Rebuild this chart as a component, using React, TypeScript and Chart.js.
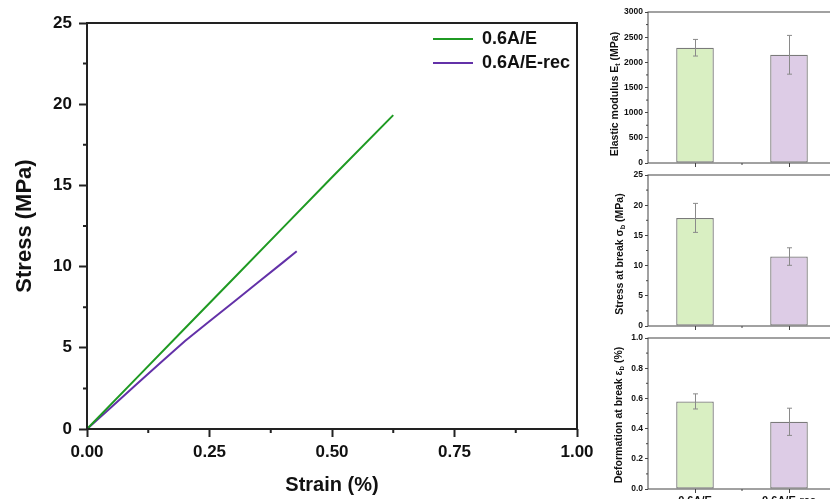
import React, { useEffect, useRef } from "react";
import { Chart, registerables } from "chart.js";
Chart.register(...registerables);

// ---------- Main stress–strain data ----------
const seriesNames = ["0.6A/E", "0.6A/E-rec"];
const strainA = [0, 0.1, 0.2, 0.3, 0.4, 0.5, 0.625];
const stressA = [0, 3.1, 6.2, 9.3, 12.4, 15.5, 19.33];
const strainB = [0, 0.05, 0.1, 0.15, 0.2, 0.25, 0.3, 0.35, 0.4, 0.428];
const stressB = [0, 1.35, 2.72, 4.08, 5.42, 6.63, 7.84, 9.05, 10.26, 10.94];
const xMinorMain = [0.125, 0.375, 0.625, 0.875];
const yMinorMain = [2.5, 7.5, 12.5, 17.5, 22.5];

// ---------- Bar panel data ----------
const samples = ["0.6A/E", "0.6A/E-rec"];
const modulusMean = [2290, 2150];
const modulusErr = [165, 385];
const breakStressMean = [17.9, 11.5];
const breakStressErr = [2.4, 1.45];
const deformMean = [0.58, 0.445];
const deformErr = [0.05, 0.09];
const modulusTitle = ["Elastic modulus E", "t", " (MPa)"];
const stressTitle = ["Stress at break \u03c3", "b", " (MPa)"];
const deformTitle = ["Deformation at break \u03b5", "b", " (%)"];
const modulusMinor = [250, 750, 1250, 1750, 2250, 2750];
const stressMinor = [2.5, 7.5, 12.5, 17.5, 22.5];
const deformMinor = [0.1, 0.3, 0.5, 0.7, 0.9];

const lineColors = ["#1f9a23", "#6331a8"];
const barFills = ["#d9efc2", "#ddcce6"];
const FONT = "'Liberation Sans', Arial, sans-serif";

function framePlugin(color: string, width: number) {
  return {
    id: "frame",
    afterDatasetsDraw(chart: any) {
      const { ctx, chartArea: a } = chart;
      ctx.save();
      ctx.strokeStyle = color;
      ctx.lineWidth = width;
      ctx.strokeRect(a.left, a.top, a.right - a.left, a.bottom - a.top);
      ctx.restore();
    },
  };
}

function minorTicksPlugin(xVals: number[], yVals: number[], len: number, color: string, w: number) {
  return {
    id: "minorTicks",
    afterDraw(chart: any) {
      const { ctx, chartArea: a, scales } = chart;
      ctx.save();
      ctx.strokeStyle = color;
      ctx.lineWidth = w;
      ctx.beginPath();
      xVals.forEach((v) => {
        const px = scales.x.getPixelForValue(v);
        ctx.moveTo(px, a.bottom);
        ctx.lineTo(px, a.bottom + len);
      });
      yVals.forEach((v) => {
        const py = scales.y.getPixelForValue(v);
        ctx.moveTo(a.left, py);
        ctx.lineTo(a.left - len, py);
      });
      ctx.stroke();
      ctx.restore();
    },
  };
}

function errorBarPlugin(means: number[], errs: number[]) {
  return {
    id: "errorBars",
    afterDatasetsDraw(chart: any) {
      const { ctx } = chart;
      const meta = chart.getDatasetMeta(0);
      const ys = chart.scales.y;
      ctx.save();
      ctx.strokeStyle = "#8a8a8a";
      ctx.lineWidth = 1;
      ctx.beginPath();
      meta.data.forEach((bar: any, i: number) => {
        const x = Math.round(bar.x) + 0.5;
        const hi = ys.getPixelForValue(means[i] + errs[i]);
        const lo = ys.getPixelForValue(means[i] - errs[i]);
        ctx.moveTo(x, hi);
        ctx.lineTo(x, lo);
        ctx.moveTo(x - 2.5, hi);
        ctx.lineTo(x + 2.5, hi);
        ctx.moveTo(x - 2.5, lo);
        ctx.lineTo(x + 2.5, lo);
      });
      ctx.stroke();
      ctx.restore();
    },
  };
}

function subTitlePlugin(parts: string[], cx: number, cy: number, size: number) {
  return {
    id: "subTitle",
    afterDraw(chart: any) {
      const { ctx } = chart;
      const mainFont = `bold ${size}px ${FONT}`;
      const subFont = `bold ${size * 0.7}px ${FONT}`;
      ctx.save();
      ctx.translate(cx, cy);
      ctx.rotate(-Math.PI / 2);
      ctx.fillStyle = "#111";
      ctx.textBaseline = "middle";
      ctx.textAlign = "left";
      const fonts = [mainFont, subFont, mainFont];
      const widths = parts.map((p, i) => {
        ctx.font = fonts[i];
        return ctx.measureText(p).width;
      });
      let x = -(widths[0] + widths[1] + widths[2]) / 2;
      parts.forEach((p, i) => {
        ctx.font = fonts[i];
        ctx.fillText(p, x, i === 1 ? size * 0.3 : 0);
        x += widths[i];
      });
      ctx.restore();
    },
  };
}

const legendPlacer = {
  id: "legendPlacer",
  afterLayout(chart: any) {
    const l = chart.legend;
    if (!l) return;
    l.left = 427;
    l.top = 24;
    l.right = chart.width;
    l.bottom = chart.chartArea.bottom;
    l.width = l.right - l.left;
    l.height = l.bottom - l.top;
  },
};

function MainChart() {
  const ref = useRef<HTMLCanvasElement>(null);
  useEffect(() => {
    const chart = new Chart(ref.current as HTMLCanvasElement, {
      type: "scatter",
      data: {
        datasets: [
          {
            label: seriesNames[0],
            data: strainA.map((x, i) => ({ x, y: stressA[i] })),
            showLine: true,
            borderColor: lineColors[0],
            backgroundColor: lineColors[0],
            borderWidth: 2,
            pointRadius: 0,
          },
          {
            label: seriesNames[1],
            data: strainB.map((x, i) => ({ x, y: stressB[i] })),
            showLine: true,
            borderColor: lineColors[1],
            backgroundColor: lineColors[1],
            borderWidth: 2,
            pointRadius: 0,
          },
        ],
      },
      options: {
        animation: false,
        responsive: false,
        devicePixelRatio: 1,
        layout: { padding: { left: 0, top: 23, right: 23, bottom: 0 } },
        plugins: {
          tooltip: { enabled: false },
          legend: {
            display: true,
            position: "chartArea" as any,
            align: "start",
            labels: {
              usePointStyle: true,
              pointStyle: "line",
              pointStyleWidth: 40,
              padding: 6,
              color: "#111",
              font: { family: FONT, size: 18, weight: "bold" },
            },
          },
        },
        scales: {
          x: {
            type: "linear",
            min: 0,
            max: 1,
            ticks: {
              stepSize: 0.25,
              callback: (v: any) => Number(v).toFixed(2),
              color: "#111",
              padding: 5,
              font: { family: FONT, size: 17, weight: "bold" },
              maxRotation: 0,
            },
            grid: { drawOnChartArea: false, tickLength: 8, tickWidth: 2, tickColor: "#222" },
            border: { display: false },
            title: {
              display: true,
              text: "Strain (%)",
              color: "#111",
              font: { family: FONT, size: 20, weight: "bold" },
              padding: { top: 0, bottom: 2 },
            },
            afterFit(s: any) {
              s.height = 70;
              s.paddingLeft = 0;
              s.paddingRight = 0;
            },
          },
          y: {
            min: 0,
            max: 25,
            ticks: {
              stepSize: 5,
              color: "#111",
              padding: 7,
              font: { family: FONT, size: 17, weight: "bold" },
            },
            grid: { drawOnChartArea: false, tickLength: 8, tickWidth: 2, tickColor: "#222" },
            border: { display: false },
            title: {
              display: true,
              text: "Stress (MPa)",
              color: "#111",
              font: { family: FONT, size: 22, weight: "bold" },
              padding: { top: 12, bottom: 0 },
            },
            afterFit(s: any) {
              s.width = 87;
              s.paddingTop = 0;
              s.paddingBottom = 0;
            },
          },
        },
      } as any,
      plugins: [framePlugin("#222", 2), minorTicksPlugin(xMinorMain, yMinorMain, 4, "#222", 2), legendPlacer],
    });
    return () => chart.destroy();
  }, []);
  return (
    <canvas
      ref={ref}
      width={600}
      height={499}
      style={{ position: "absolute", left: 0, top: 0, width: 600, height: 499 }}
    />
  );
}

type PanelProps = {
  top: number;
  height: number;
  padTop: number;
  xHeight: number;
  means: number[];
  errs: number[];
  max: number;
  step: number;
  decimals: number;
  minor: number[];
  title: string[];
  titleX: number;
  titleY: number;
  showLabels: boolean;
};

function BarPanel(p: PanelProps) {
  const ref = useRef<HTMLCanvasElement>(null);
  useEffect(() => {
    const chart = new Chart(ref.current as HTMLCanvasElement, {
      type: "bar",
      data: {
        labels: samples,
        datasets: [
          {
            data: p.means,
            backgroundColor: barFills,
            borderColor: "#7a7a7a",
            borderWidth: 1.3,
            borderSkipped: false,
            barPercentage: 0.4,
            categoryPercentage: 1,
          },
        ],
      },
      options: {
        animation: false,
        responsive: false,
        devicePixelRatio: 1,
        layout: { padding: { left: 0, top: p.padTop, right: 14, bottom: 0 } },
        plugins: { legend: { display: false }, tooltip: { enabled: false } },
        scales: {
          x: {
            grid: { offset: false, drawOnChartArea: false, tickLength: 4, tickWidth: 1, tickColor: "#444" },
            border: { display: false },
            ticks: {
              display: p.showLabels,
              color: "#111",
              padding: 1,
              maxRotation: 0,
              font: { family: FONT, size: 11, weight: "bold" },
            },
            afterFit(s: any) {
              s.height = p.xHeight;
              s.paddingLeft = 0;
              s.paddingRight = 0;
            },
          },
          y: {
            min: 0,
            max: p.max,
            ticks: {
              stepSize: p.step,
              callback: (v: any) => Number(v).toFixed(p.decimals),
              color: "#111",
              padding: 2,
              font: { family: FONT, size: 8.5, weight: "bold" },
            },
            grid: { drawOnChartArea: false, tickLength: 3, tickWidth: 1, tickColor: "#444" },
            border: { display: false },
            afterFit(s: any) {
              s.width = 58;
              s.paddingTop = 0;
              s.paddingBottom = 0;
            },
          },
        },
      } as any,
      plugins: [
        errorBarPlugin(p.means, p.errs),
        framePlugin("#444", 1),
        minorTicksPlugin([0.5], p.minor, 2, "#444", 1),
        subTitlePlugin(p.title, p.titleX, p.titleY, 10.5),
      ],
    });
    return () => chart.destroy();
  }, []);
  return (
    <canvas
      ref={ref}
      width={260}
      height={p.height}
      style={{ position: "absolute", left: 590, top: p.top, width: 260, height: p.height }}
    />
  );
}

export default function App() {
  return (
    <div
      style={{
        position: "fixed",
        left: 0,
        top: 0,
        width: 830,
        height: 499,
        overflow: "hidden",
        background: "#fff",
      }}
    >
      <MainChart />
      <BarPanel
        top={0}
        height={170}
        padTop={12}
        xHeight={7}
        means={modulusMean}
        errs={modulusErr}
        max={3000}
        step={500}
        decimals={0}
        minor={modulusMinor}
        title={modulusTitle}
        titleX={25}
        titleY={94}
        showLabels={false}
      />
      <BarPanel
        top={170}
        height={160}
        padTop={5}
        xHeight={4}
        means={breakStressMean}
        errs={breakStressErr}
        max={25}
        step={5}
        decimals={0}
        minor={stressMinor}
        title={stressTitle}
        titleX={30}
        titleY={84}
        showLabels={false}
      />
      <BarPanel
        top={330}
        height={200}
        padTop={8}
        xHeight={41}
        means={deformMean}
        errs={deformErr}
        max={1}
        step={0.2}
        decimals={1}
        minor={deformMinor}
        title={deformTitle}
        titleX={29}
        titleY={85}
        showLabels={true}
      />
    </div>
  );
}
